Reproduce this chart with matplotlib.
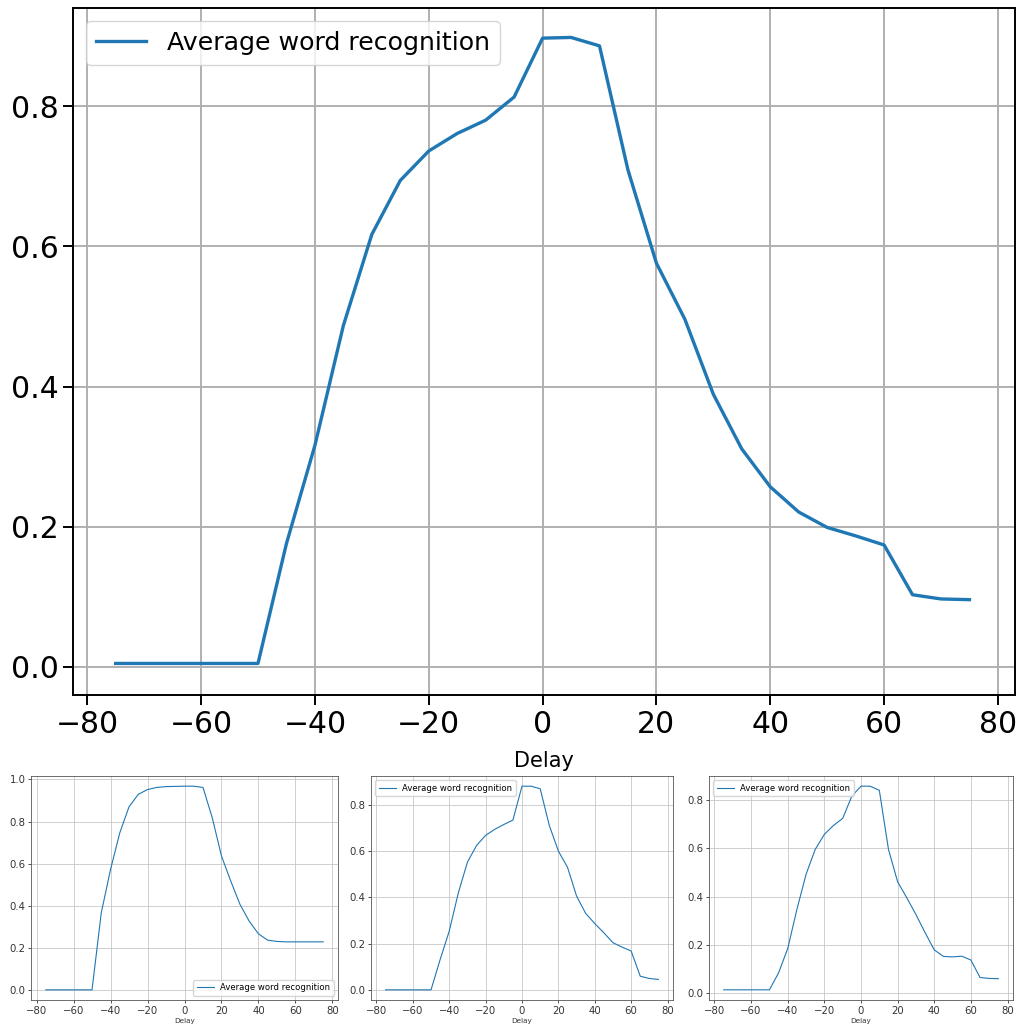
import numpy as np
import matplotlib
matplotlib.use("Agg")
import matplotlib.pyplot as plt

# delays (ms)
delays = np.arange(-75, 80, 5)

# main averaged curve
avg_main = [0.005, 0.005, 0.005, 0.005, 0.005, 0.005, 0.176, 0.316, 0.487, 0.617,
            0.694, 0.736, 0.761, 0.780, 0.813, 0.897, 0.898, 0.886, 0.709, 0.576,
            0.496, 0.389, 0.311, 0.257, 0.221, 0.199, 0.187, 0.174, 0.103, 0.097,
            0.096]

# three smaller runs
avg_a = [0.0, 0.0, 0.0, 0.0, 0.0, 0.0, 0.366, 0.572, 0.746, 0.870,
         0.929, 0.952, 0.962, 0.966, 0.967, 0.968, 0.968, 0.962, 0.818, 0.636,
         0.517, 0.406, 0.326, 0.266, 0.236, 0.230, 0.228, 0.228, 0.228, 0.228,
         0.228]
avg_b = [0.0, 0.0, 0.0, 0.0, 0.0, 0.0, 0.131, 0.254, 0.420, 0.553,
         0.625, 0.669, 0.695, 0.716, 0.735, 0.882, 0.882, 0.871, 0.712, 0.601,
         0.531, 0.406, 0.331, 0.287, 0.247, 0.204, 0.185, 0.168, 0.059, 0.049,
         0.045]
avg_c = [0.015, 0.015, 0.015, 0.015, 0.015, 0.015, 0.085, 0.186, 0.347, 0.492,
         0.595, 0.657, 0.694, 0.723, 0.815, 0.856, 0.856, 0.839, 0.595, 0.461,
         0.395, 0.326, 0.251, 0.180, 0.153, 0.151, 0.154, 0.138, 0.066, 0.062,
         0.061]

label = "Average word recognition"
color = "#1f77b4"
W, H = 1021, 1026

fig = plt.figure(figsize=(W / 100, H / 100), dpi=100)

def box(x0, y0, x1, y1):
    return [x0 / W, 1 - y1 / H, (x1 - x0) / W, (y1 - y0) / H]

# big plot
ax = fig.add_axes(box(73, 8, 1015, 695))
ax.plot(delays, avg_main, color=color, linewidth=2.4, label=label)
ax.set_xlim(-82.5, 83)
ax.set_ylim(-0.04, 0.94)
ax.set_xticks(np.arange(-80, 81, 20))
ax.set_yticks([0.0, 0.2, 0.4, 0.6, 0.8])
ax.grid(True, color="#b0b0b0", linewidth=1.4)
ax.tick_params(labelsize=21.5, length=7, width=1.4)
for s in ax.spines.values():
    s.set_linewidth(1.4)
ax.set_xlabel("Delay", fontsize=15, labelpad=9)
ax.legend(loc="upper left", fontsize=18.2, handlelength=2.0)

# small plots
small = [(avg_a, (31, 776, 338, 1000), "lower right"),
         (avg_b, (371, 776, 673, 1000), "upper left"),
         (avg_c, (709, 776, 1013, 1000), "upper left")]
for vals, (x0, y0, x1, y1), loc in small:
    a = fig.add_axes(box(x0, y0, x1, y1))
    a.plot(delays, vals, color=color, linewidth=0.8, label=label)
    a.set_xlim(-83, 83)
    a.margins(y=0.05)
    a.set_xticks(np.arange(-80, 81, 20))
    a.grid(True, color="#c8c8c8", linewidth=0.6)
    a.tick_params(labelsize=7.3, length=2.5, width=0.6, pad=1.5, colors="#333333")
    for s in a.spines.values():
        s.set_linewidth(0.6)
        s.set_color("#555555")
    a.set_xlabel("Delay", fontsize=5.2, labelpad=1.5, color="#333333")
    a.legend(loc=loc, fontsize=6.1, handlelength=2.0, borderpad=0.4)

fig.savefig("out.png", dpi=100)
